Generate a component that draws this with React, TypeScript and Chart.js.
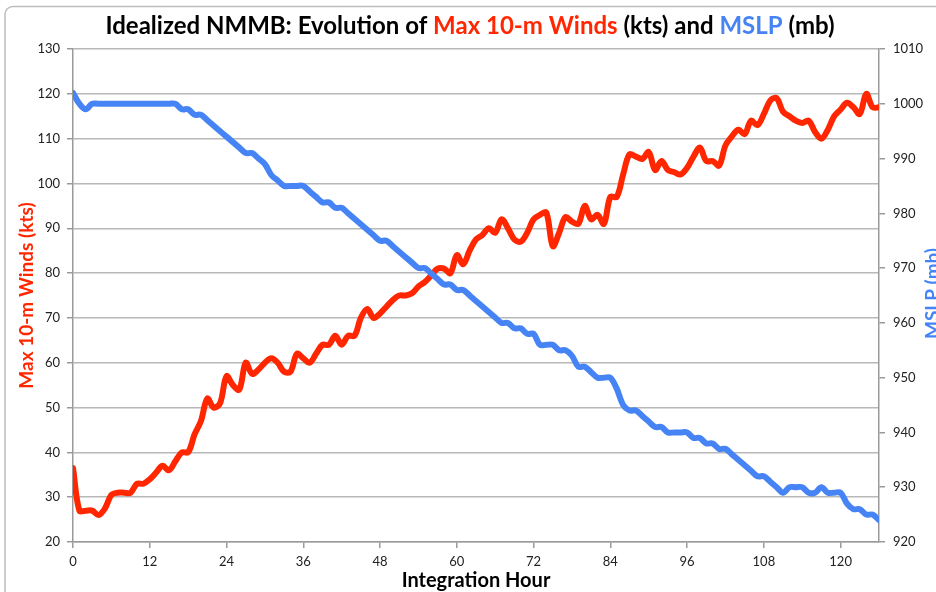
import React, { useEffect, useRef } from 'react';
import { Chart, registerables } from 'chart.js';

Chart.register(...registerables);

// ---- Data (hourly) ----
const WIND_KTS = [
  36.5, 27, 27, 27, 26, 27.5, 30.5, 31, 31, 31,
  33, 33, 34, 35.5, 37, 36, 38, 40, 40, 44,
  47, 52, 50, 51, 57, 55, 54, 60, 57.5, 58.5,
  60, 61, 60, 58, 58, 62, 61, 60, 62, 64,
  64, 66, 64, 66, 66, 70, 72, 70, 71, 72.5,
  74, 75, 75, 75.5, 77, 78, 79.5, 81, 81, 80,
  84, 82, 85, 87.5, 88.5, 90, 89, 92, 90, 87.5,
  87, 89, 92, 93, 93.5, 86, 89, 92.5, 91.5, 91,
  95, 92, 93, 91, 97, 97, 102, 106.5, 106, 105.5,
  107, 103, 105, 103, 102.5, 102, 103.5, 106, 108, 105,
  105, 104, 108.5, 110.5, 112, 111, 114, 113, 115.5, 118.5,
  119, 116, 115, 114, 113.5, 114, 111.5, 110, 112, 115,
  116.5, 118, 117, 115.5, 120, 117, 117,
];

const MSLP_MB = [
  1002, 1000, 999, 1000, 1000, 1000, 1000, 1000, 1000, 1000,
  1000, 1000, 1000, 1000, 1000, 1000, 1000, 999, 999, 998,
  998, 997, 996, 995, 994, 993, 992, 991, 991, 990,
  989, 987, 986, 985, 985, 985, 985, 984, 983, 982,
  982, 981, 981, 980, 979, 978, 977, 976, 975, 975,
  974, 973, 972, 971, 970, 970, 969, 968, 967, 967,
  966, 966, 965, 964, 963, 962, 961, 960, 960, 959,
  959, 958, 958, 956, 956, 956, 955, 955, 954, 952,
  952, 951, 950, 950, 950, 948, 945, 944, 944, 943,
  942, 941, 941, 940, 940, 940, 940, 939, 939, 938,
  938, 937, 937, 936, 935, 934, 933, 932, 932, 931,
  930, 929, 930, 930, 930, 929, 929, 930, 929, 929,
  929, 927, 926, 926, 925, 925, 924,
];

const HOURS = WIND_KTS.map((_, i) => i);

const X_MIN = 0;
const X_MAX = 126;
const X_STEP = 12;
const WIND_MIN = 20;
const WIND_MAX = 130;
const MSLP_MIN = 920;
const MSLP_MAX = 1010;

const RED = '#FF2600';
const BLUE = '#4684F5';

const TITLE_PARTS = [
  { text: 'Idealized NMMB: Evolution of ', color: '#000000' },
  { text: 'Max 10-m Winds', color: RED },
  { text: ' (kts) and ', color: '#000000' },
  { text: 'MSLP', color: BLUE },
  { text: ' (mb)', color: '#000000' },
];
const LEFT_TITLE = 'Max 10-m Winds (kts)';
const RIGHT_TITLE = 'MSLP (mb)';
const X_TITLE = 'Integration Hour';

const FONT = 'Lato, "Open Sans", sans-serif';

const decorPlugin = {
  id: 'decor',
  beforeDraw(chart: any) {
    const ctx = chart.ctx as CanvasRenderingContext2D;
    ctx.save();
    ctx.fillStyle = '#ffffff';
    ctx.fillRect(0, 0, chart.width, chart.height);
    ctx.strokeStyle = '#bdbdbd';
    ctx.lineWidth = 1.5;
    ctx.beginPath();
    (ctx as any).roundRect(5, 6.5, 1000, 700, 8);
    ctx.stroke();
    ctx.restore();
  },
  afterDraw(chart: any) {
    const ctx = chart.ctx as CanvasRenderingContext2D;
    const area = chart.chartArea;
    ctx.save();
    // Title with coloured parts
    ctx.font = `bold 24px ${FONT}`;
    ctx.textBaseline = 'alphabetic';
    ctx.textAlign = 'left';
    const widths = TITLE_PARTS.map((p) => ctx.measureText(p.text).width);
    const total = widths.reduce((a, b) => a + b, 0);
    let x = 470 - total / 2;
    TITLE_PARTS.forEach((p, i) => {
      ctx.fillStyle = p.color;
      ctx.fillText(p.text, x, 34);
      x += widths[i];
    });

    const midY = (area.top + area.bottom) / 2;
    // Left axis title
    ctx.font = `bold 19px ${FONT}`;
    ctx.textAlign = 'center';
    ctx.fillStyle = RED;
    ctx.save();
    ctx.translate(33, midY);
    ctx.rotate(-Math.PI / 2);
    ctx.fillText(LEFT_TITLE, 0, 0);
    ctx.restore();

    // Right axis title
    ctx.fillStyle = BLUE;
    ctx.save();
    ctx.translate(939, midY - 2);
    ctx.rotate(-Math.PI / 2);
    ctx.fillText(RIGHT_TITLE, 0, 0);
    ctx.restore();

    // X axis title
    ctx.font = `bold 20px ${FONT}`;
    ctx.fillStyle = '#000000';
    ctx.fillText(X_TITLE, (area.left + area.right) / 2, 587);
    ctx.restore();
  },
};

export default function App() {
  const canvasRef = useRef<HTMLCanvasElement | null>(null);

  useEffect(() => {
    if (!canvasRef.current) return;
    const tickFont = { family: FONT, size: 13 };
    const plain = (v: any) => String(v);
    const chart = new Chart(canvasRef.current, {
      type: 'line',
      data: {
        datasets: [
          {
            label: 'MSLP (mb)',
            data: HOURS.map((h, i) => ({ x: h, y: MSLP_MB[i] })),
            yAxisID: 'y1',
            borderColor: BLUE,
            borderWidth: 6,
            pointRadius: 0,
            tension: 0.35,
            borderCapStyle: 'round',
            borderJoinStyle: 'round',
            order: 0,
          },
          {
            label: 'Max 10-m Winds (kts)',
            data: HOURS.map((h, i) => ({ x: h, y: WIND_KTS[i] })),
            yAxisID: 'y',
            borderColor: RED,
            borderWidth: 6,
            pointRadius: 0,
            tension: 0.35,
            borderCapStyle: 'round',
            borderJoinStyle: 'round',
            order: 1,
          },
        ],
      },
      options: {
        responsive: false,
        animation: false,
        devicePixelRatio: 1,
        layout: { padding: { top: 49, left: 0, right: 0, bottom: 0 } },
        plugins: {
          legend: { display: false },
          tooltip: { enabled: false },
          title: { display: false },
        },
        scales: {
          x: {
            type: 'linear',
            position: 'bottom',
            min: X_MIN,
            max: X_MAX,
            afterBuildTicks: (s: any) => {
              s.ticks = s.ticks.filter((t: any) => t.value % X_STEP === 0);
            },
            afterFit: (s: any) => {
              s.height = 50;
            },
            ticks: {
              stepSize: X_STEP,
              font: tickFont,
              color: '#222222',
              padding: 6,
              maxRotation: 0,
              autoSkip: false,
              callback: plain,
            },
            grid: {
              drawOnChartArea: false,
              drawTicks: true,
              tickLength: 6,
              color: '#9a9a9a',
              lineWidth: 1.5,
            },
            border: { display: true, color: '#9a9a9a', width: 1.5 },
          },
          y: {
            type: 'linear',
            position: 'left',
            min: WIND_MIN,
            max: WIND_MAX,
            afterFit: (s: any) => {
              s.width = 73;
            },
            ticks: {
              stepSize: 10,
              font: tickFont,
              color: '#222222',
              padding: 7,
              callback: plain,
            },
            grid: {
              color: '#b8b8b8',
              lineWidth: 1.5,
              drawTicks: true,
              tickLength: 6,
              tickColor: '#9a9a9a',
            },
            border: { display: true, color: '#9a9a9a', width: 1.5 },
          },
          y1: {
            type: 'linear',
            position: 'right',
            min: MSLP_MIN,
            max: MSLP_MAX,
            afterFit: (s: any) => {
              s.width = 57;
            },
            ticks: {
              stepSize: 10,
              font: tickFont,
              color: '#222222',
              padding: 8,
              callback: plain,
            },
            grid: {
              drawOnChartArea: false,
              drawTicks: true,
              tickLength: 6,
              color: '#9a9a9a',
              lineWidth: 1.5,
            },
            border: { display: true, color: '#9a9a9a', width: 1.5 },
          },
        },
      } as any,
      plugins: [decorPlugin as any],
    });
    return () => chart.destroy();
  }, []);

  return (
    <div style={{ position: 'absolute', left: 0, top: 0, width: 936, height: 592 }}>
      <canvas
        ref={canvasRef}
        width={936}
        height={592}
        style={{ display: 'block', width: 936, height: 592 }}
      />
    </div>
  );
}
